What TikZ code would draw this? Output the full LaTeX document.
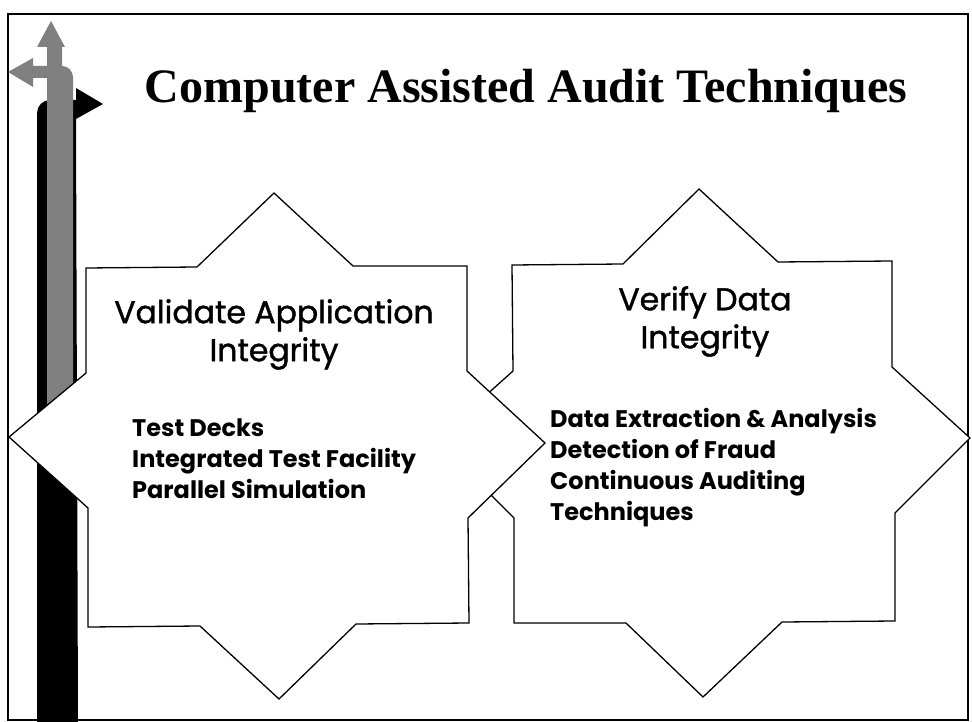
\documentclass[tikz,border=0pt]{standalone}
\usepackage{fontspec}
\setmainfont{Liberation Serif}
\setsansfont{Poppins}
\newfontfamily\headfont[FakeBold=1.3]{Poppins}
\usetikzlibrary{positioning}
\definecolor{arrowgrey}{gray}{0.5}
\tikzstyle{starbox} = [
    draw=black,
    fill=white,
    line width=1.3pt,
    line join=miter
    ]
\tikzstyle{slidetitle} = [
    font=\bfseries\fontsize{48}{52}\selectfont,
    inner sep=0pt,
    anchor=base
    ]
\tikzstyle{heading} = [
    font=\headfont\fontsize{31.5}{38}\selectfont,
    align=center,
    inner sep=0pt,
    anchor=north
    ]
\tikzstyle{items} = [
    font=\sffamily\bfseries\fontsize{24}{31}\selectfont,
    align=left,
    inner sep=0pt,
    anchor=north west
    ]

\begin{document}
\begin{tikzpicture}[x=1pt,y=-1pt]
\useasboundingbox (0,0) rectangle (972,722);
% slide frame
\draw[line width=1.6pt] (8,14) rectangle (968,720);

% signpost
\fill[black] (37,722) [rounded corners=13pt] -- (37,100) [sharp corners] -- (76,100)
    -- (76,88) -- (103,104) -- (76,119) -- (78,722) -- cycle;
\fill[arrowgrey] (47,460) -- (47,47) -- (37,47) -- (51,21) -- (65,47) -- (62,47) -- (62,460) -- cycle;
\fill[arrowgrey] (60,460) -- (60,78) -- (33,78) -- (33,87) -- (8,72) -- (33,58) -- (33,66)
    [rounded corners=11pt] -- (73,66) [sharp corners] -- (73,460) -- cycle;

\node[slidetitle] (title) at (526,103) {Computer Assisted Audit Techniques};

% right star first, the left one lies over it
\draw[starbox] (699,189) -- (778,262) -- (892,261) -- (892,367) -- (970,438) -- (895,513)
    -- (895,621) -- (782,622) -- (703,697) -- (626,623) -- (514,623) -- (514,518)
    -- (436,440) -- (513,371) -- (512,265) -- (623,264) -- cycle;
\draw[starbox] (274,193) -- (353,266) -- (467,266) -- (467,371) -- (545,443) -- (468,518)
    -- (469,623) -- (356,624) -- (279,699) -- (200,626) -- (88,627) -- (88,508)
    -- (9,437) -- (86,373) -- (86,268) -- (197,267) -- cycle;

\node[heading] (validate) at (274,299) {Validate Application\\Integrity};
\node[items] (appitems) at (132,419) {Test Decks\\Integrated Test Facility\\Parallel Simulation};

\node[heading] (verify) at (705,286) {Verify Data\\Integrity};
\node[items] (dataitems) at (550,408) {Data Extraction \& Analysis\\Detection of Fraud\\Continuous Auditing\\Techniques};
\end{tikzpicture}
\end{document}
